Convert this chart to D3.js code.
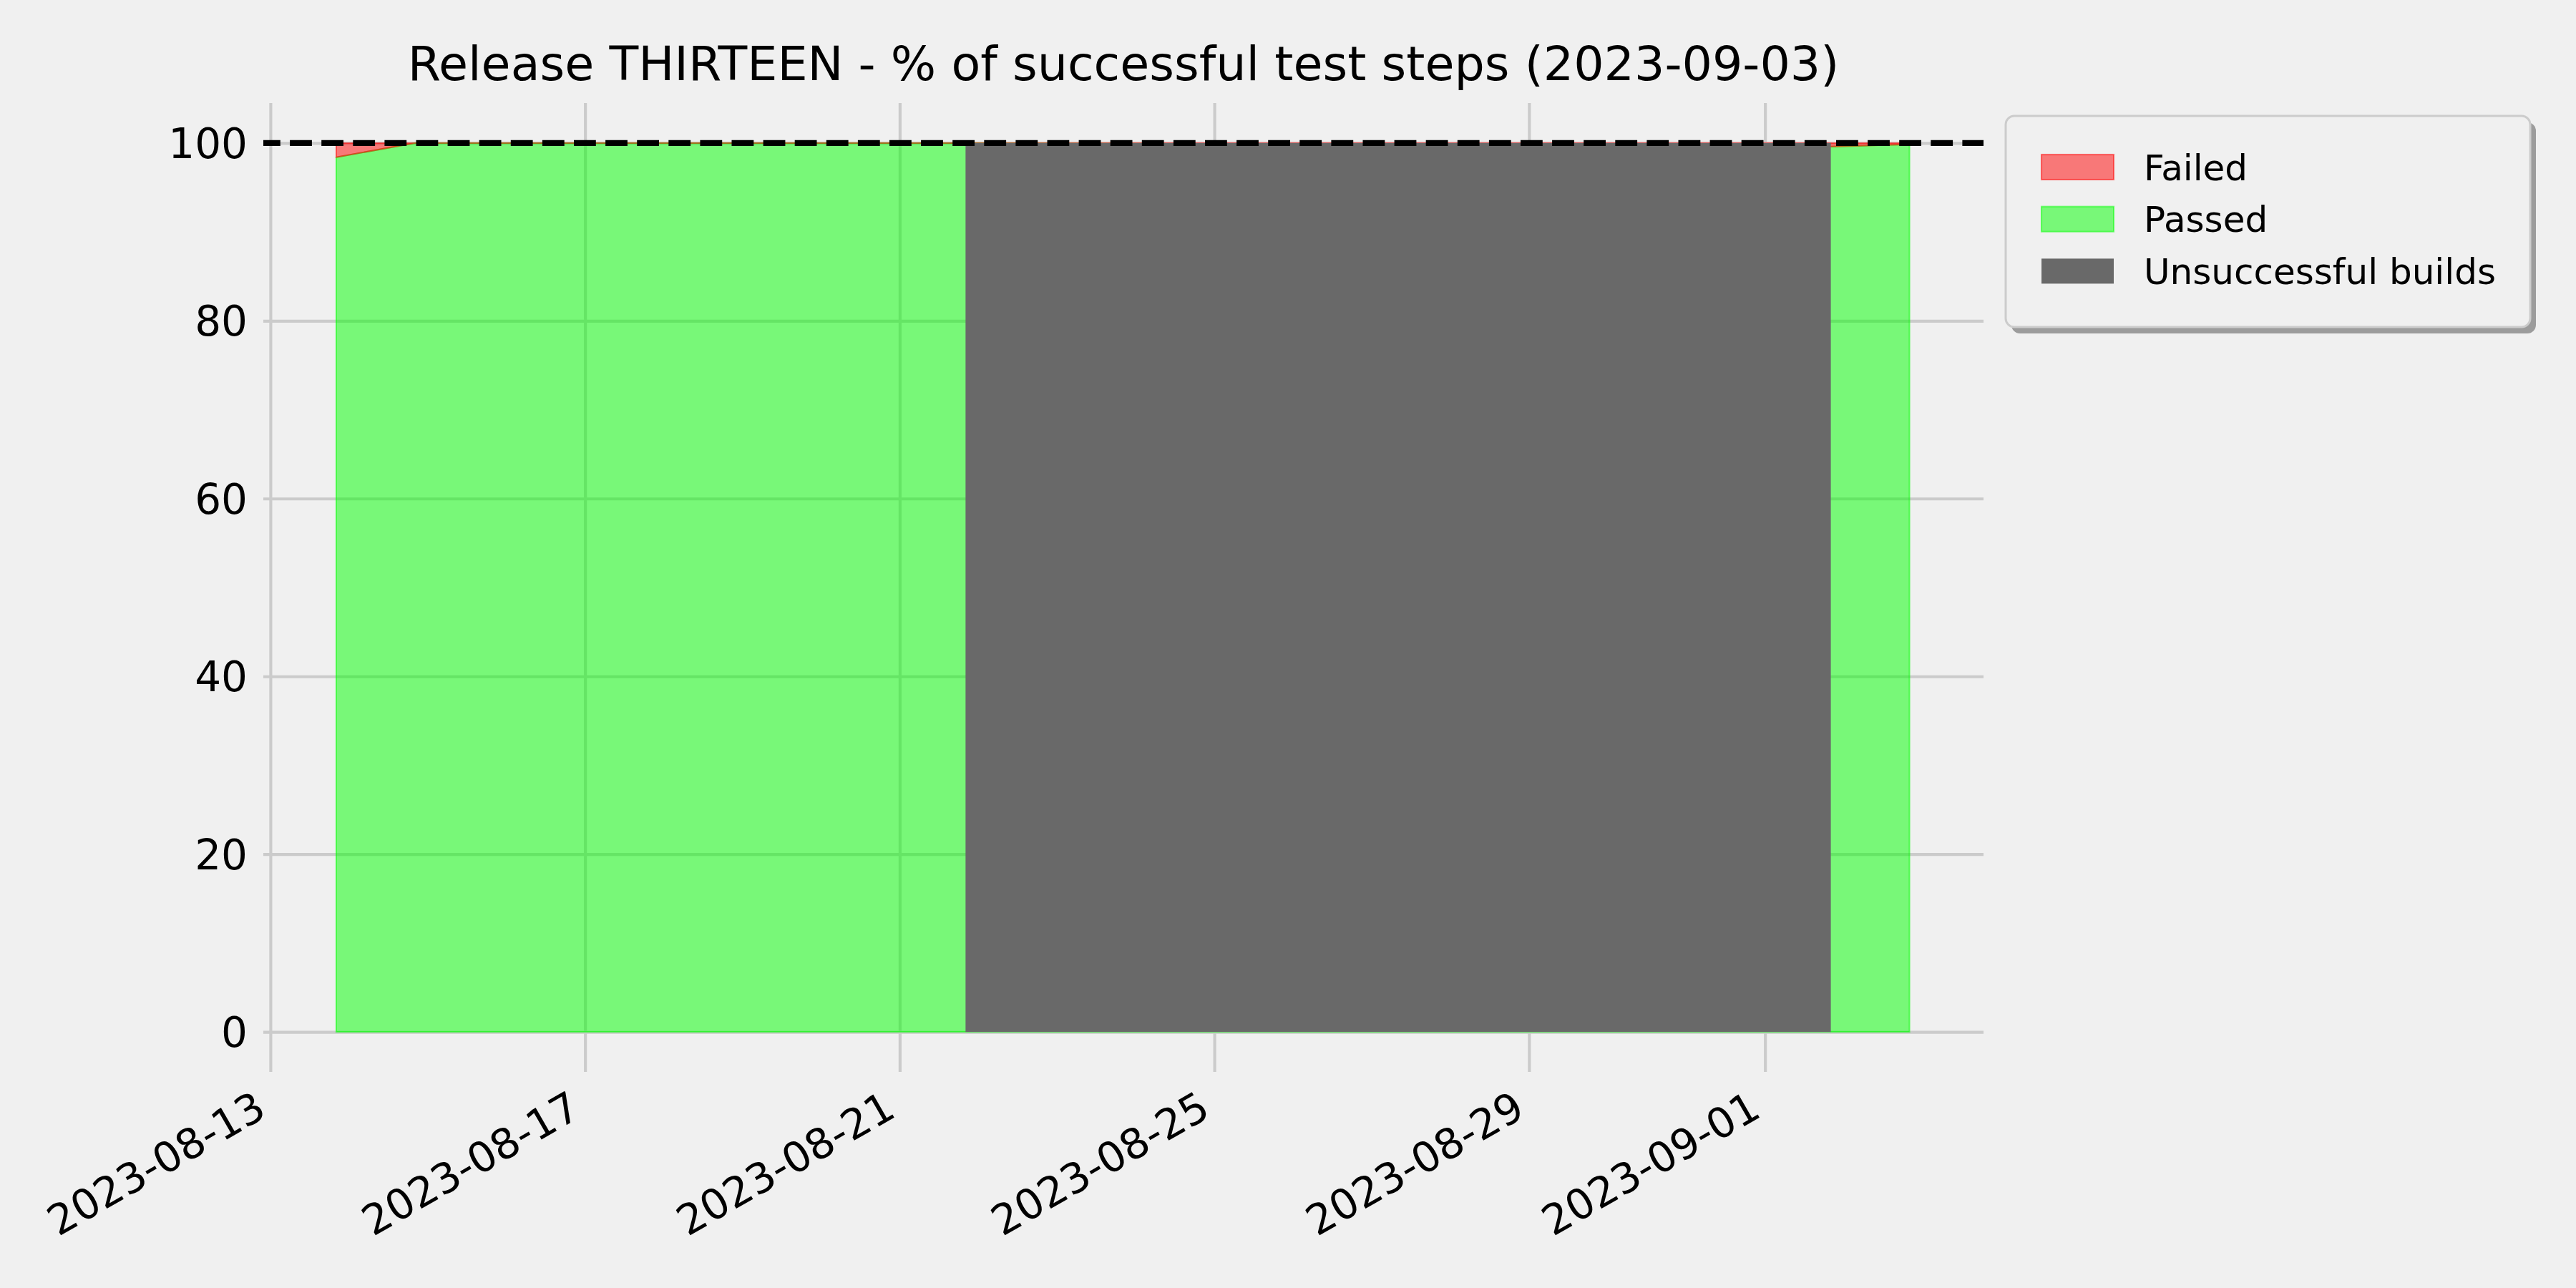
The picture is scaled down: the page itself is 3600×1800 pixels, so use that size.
<!DOCTYPE html>
<html>
<head>
<meta charset="utf-8">
<script src="https://cdn.jsdelivr.net/npm/d3@7/dist/d3.min.js"></script>
<style>
  html, body { margin: 0; padding: 0; background: #f0f0f0; }
  svg { display: block; }
  text { font-family: "DejaVu Sans", sans-serif; fill: #000; }
</style>
</head>
<body>
<script>
// ---------------- data ----------------
const titleText = "Release THIRTEEN - % of successful test steps (2023-09-03)";
const buildDates = [
  "2023-08-13T20:05", "2023-08-14T20:05", "2023-08-15T20:05", "2023-08-16T20:05",
  "2023-08-17T20:05", "2023-08-18T20:05", "2023-08-19T20:05", "2023-08-20T20:05",
  "2023-08-21T20:05", "2023-08-22T20:05", "2023-08-23T20:05", "2023-08-24T20:05",
  "2023-08-25T20:05", "2023-08-26T20:05", "2023-08-27T20:05", "2023-08-28T20:05",
  "2023-08-29T20:05", "2023-08-30T20:05", "2023-08-31T20:05", "2023-09-01T20:05",
  "2023-09-02T20:05"
];
const buildOk = [true, true, true, true, true, true, true, true, true,
  false, false, false, false, false, false, false, false, false, false,
  true, true];
const failedPct = [1.6, 0, 0, 0, 0, 0, 0, 0, 0,
  null, null, null, null, null, null, null, null, null, null,
  0.4, 0.15];
const passedPct = [98.4, 100, 100, 100, 100, 100, 100, 100, 100,
  null, null, null, null, null, null, null, null, null, null,
  99.6, 99.85];
const targetPct = 100;
const xTickLabels = ["2023-08-13", "2023-08-17", "2023-08-21", "2023-08-25", "2023-08-29", "2023-09-01"];
const yTickValues = [0, 20, 40, 60, 80, 100];
const seriesNames = ["Failed", "Passed", "Unsuccessful builds"];
const xDomain = ["2023-08-12T21:50", "2023-09-03T18:40"];
const yDomain = [-4.5, 104.5];

// ---------------- layout ----------------
const W = 3600, H = 1800;
const plot = { left: 368, right: 2772, top: 144, bottom: 1498 };
const colors = {
  failed: "rgba(255,0,0,0.5)",
  passed: "rgba(0,255,0,0.5)",
  unsuccessful: "#696969",
  grid: "#cbcbcb",
  bg: "#f0f0f0"
};

const parse = d3.isoParse;
const svg = d3.select("body").append("svg").attr("width", W).attr("height", H);
svg.append("rect").attr("width", W).attr("height", H).attr("fill", colors.bg);

const x = d3.scaleTime().domain(xDomain.map(parse)).range([plot.left, plot.right]);
const y = d3.scaleLinear().domain(yDomain).range([plot.bottom, plot.top]);

// ---------------- grid ----------------
const xTicks = xTickLabels.map(s => parse(s + "T00:00"));
const gx = svg.append("g")
  .attr("transform", `translate(0,${plot.bottom})`)
  .call(d3.axisBottom(x).tickValues(xTicks).tickSize(-(plot.bottom - plot.top)).tickFormat(""));
gx.select(".domain").remove();
gx.selectAll(".tick line").attr("stroke", colors.grid).attr("stroke-width", 4.17);

const gy = svg.append("g")
  .attr("transform", `translate(${plot.left},0)`)
  .call(d3.axisLeft(y).tickValues(yTickValues).tickSize(-(plot.right - plot.left)).tickFormat(""));
gy.select(".domain").remove();
gy.selectAll(".tick line").attr("stroke", colors.grid).attr("stroke-width", 4.17);

// ---------------- stacked areas (successful builds) ----------------
const okRows = buildDates.map((d, i) => ({ date: parse(d), failed: failedPct[i], passed: passedPct[i], ok: buildOk[i] }))
  .filter(r => r.ok);
const stack = d3.stack().keys(["passed", "failed"]);
const stacked = stack(okRows);
const area = d3.area()
  .x(d => x(d.data.date))
  .y0(d => y(d[0]))
  .y1(d => y(d[1]));
const fillFor = { passed: colors.passed, failed: colors.failed };
svg.append("g").selectAll("path").data(stacked).join("path")
  .attr("d", area)
  .attr("fill", s => fillFor[s.key])
  .attr("stroke", s => fillFor[s.key])
  .attr("stroke-width", 2.1)
  .attr("stroke-linejoin", "miter");

// ---------------- unsuccessful builds spans ----------------
const spans = [];
for (let i = 0; i < buildOk.length; i++) {
  if (!buildOk[i]) {
    let s = i; while (i < buildOk.length && !buildOk[i]) i++;
    const startIdx = Math.max(0, s - 1);
    const endIdx = Math.min(buildOk.length - 1, i);
    spans.push([parse(buildDates[startIdx]), parse(buildDates[endIdx])]);
  }
}
svg.append("g").selectAll("rect").data(spans).join("rect")
  .attr("x", d => x(d[0]))
  .attr("width", d => x(d[1]) - x(d[0]))
  .attr("y", y(100))
  .attr("height", y(0) - y(100))
  .attr("fill", colors.unsuccessful);

// ---------------- target line ----------------
svg.append("line")
  .attr("x1", plot.left).attr("x2", plot.right)
  .attr("y1", y(targetPct)).attr("y2", y(targetPct))
  .attr("stroke", "#000").attr("stroke-width", 8.33)
  .attr("stroke-dasharray", "30.8,13.3").attr("stroke-dashoffset", 7);

// ---------------- tick labels ----------------
svg.append("g").selectAll("text").data(yTickValues).join("text")
  .attr("x", plot.left - 22)
  .attr("y", d => y(d) + 21)
  .attr("text-anchor", "end")
  .attr("font-size", 58)
  .text(d => d);

svg.append("g").selectAll("text").data(xTicks).join("text")
  .attr("transform", d => `translate(${x(d) - 3},${1559}) rotate(-30)`)
  .attr("text-anchor", "end")
  .attr("font-size", 58.3)
  .text((d, i) => xTickLabels[i]);

// ---------------- title ----------------
svg.append("text")
  .attr("x", (plot.left + plot.right) / 2)
  .attr("y", 112)
  .attr("text-anchor", "middle")
  .attr("font-size", 66.7)
  .text(titleText);

// ---------------- legend ----------------
const lg = { x: 2803, y: 162, w: 733, h: 295 };
const legend = svg.append("g");
legend.append("rect")
  .attr("x", lg.x + 8).attr("y", lg.y + 9).attr("width", lg.w).attr("height", lg.h)
  .attr("rx", 12).attr("fill", "#9c9c9c");
legend.append("rect")
  .attr("x", lg.x).attr("y", lg.y).attr("width", lg.w).attr("height", lg.h)
  .attr("rx", 12).attr("fill", colors.bg).attr("stroke", "#cccccc").attr("stroke-width", 3);
const legendColors = [colors.failed, colors.passed, colors.unsuccessful];
const rows = legend.selectAll("g.row").data(seriesNames).join("g").attr("class", "row")
  .attr("transform", (d, i) => `translate(0,${i * 72.7})`);
rows.append("rect")
  .attr("x", 2853).attr("y", 216).attr("width", 101).attr("height", 35)
  .attr("fill", (d, i) => legendColors[i])
  .attr("stroke", (d, i) => i < 2 ? legendColors[i] : "none")
  .attr("stroke-width", 2.1);
rows.append("text")
  .attr("x", 2996).attr("y", 251.5)
  .attr("font-size", 50)
  .text(d => d);
</script>
</body>
</html>
